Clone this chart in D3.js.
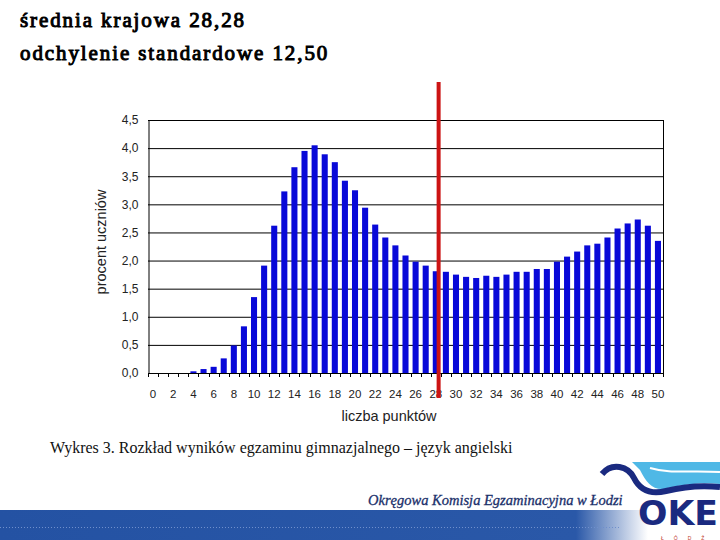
<!DOCTYPE html>
<html>
<head>
<meta charset="utf-8">
<script src="https://cdn.jsdelivr.net/npm/d3@7"></script>
<style>
  body { margin: 0; background: #fff; }
  svg { display: block; }
</style>
</head>
<body>
<div class="canvas"></div>
<script>
'use strict';

// punkty 0..50 i procent uczniów
const points = d3.range(0, 51);
const percents = [
  0, 0, 0, 0, 0.03, 0.07, 0.11, 0.26, 0.49, 0.83,
  1.35, 1.91, 2.62, 3.23, 3.66, 3.95, 4.05, 3.89, 3.75, 3.42,
  3.25, 2.94, 2.64, 2.41, 2.27, 2.09, 1.98, 1.91, 1.81, 1.80,
  1.75, 1.71, 1.69, 1.73, 1.71, 1.75, 1.80, 1.80, 1.85, 1.85,
  1.98, 2.07, 2.16, 2.27, 2.30, 2.41, 2.57, 2.66, 2.73, 2.62,
  2.35
];
const yTicks = [0, 0.5, 1, 1.5, 2, 2.5, 3, 3.5, 4, 4.5];
const mean = 28.28;
const sd = 12.5;

const svg = d3
  .select('.canvas')
  .append('svg')
  .attr('width', 720)
  .attr('height', 540);

const serif = '"Liberation Serif", "Times New Roman", serif';
const sans = 'Arial, "Liberation Sans", sans-serif';

// naglowek (pogrubienie przez obrys)
const header = [
  'średnia krajowa ' + d3.format('.2f')(mean).replace('.', ','),
  'odchylenie standardowe ' + d3.format('.2f')(sd).replace('.', ',')
];
svg.selectAll('text.header')
  .data(header)
  .enter()
  .append('text')
  .attr('class', 'header')
  .attr('x', 20)
  .attr('y', (d, i) => 27 + i * 33)
  .style('font-family', serif)
  .style('font-size', '21px')
  .style('letter-spacing', '1.9px')
  .attr('fill', '#000')
  .attr('stroke', '#000')
  .attr('stroke-width', 1)
  .text(d => d);

const plotLeft = 148, plotRight = 663, plotTop = 120, plotBottom = 373;

const x = d3.scaleBand().domain(points).range([plotLeft, plotRight]).paddingInner(0.4).paddingOuter(0.2);
const y = d3.scaleLinear().domain([0, 4.5]).range([plotBottom, plotTop]);

const graph = svg.append('g');

// siatka
graph.selectAll('line.grid')
  .data(yTicks)
  .enter()
  .append('line')
  .attr('class', 'grid')
  .attr('x1', plotLeft).attr('x2', plotRight)
  .attr('y1', d => y(d) + 0.5).attr('y2', d => y(d) + 0.5)
  .attr('stroke', '#000')
  .attr('stroke-width', 1);

graph.append('line')
  .attr('x1', plotRight + 0.5).attr('x2', plotRight + 0.5)
  .attr('y1', plotTop).attr('y2', plotBottom)
  .attr('stroke', '#000');

// slupki
graph.selectAll('rect')
  .data(percents)
  .enter()
  .append('rect')
  .attr('x', (d, i) => x(points[i]))
  .attr('width', x.bandwidth())
  .attr('y', d => y(d))
  .attr('height', d => plotBottom - y(d))
  .attr('fill', '#0808d8');

// os Y
const yAxis = d3.axisLeft(y)
  .tickValues(yTicks)
  .tickSize(0)
  .tickPadding(10)
  .tickFormat(d => d3.format('.1f')(d).replace('.', ','));
const yAxisGroup = svg.append('g')
  .attr('transform', `translate(${plotLeft + 0.5},0)`)
  .call(yAxis);
yAxisGroup.select('.domain').attr('stroke', '#000');
yAxisGroup.selectAll('text')
  .style('font-family', sans)
  .style('font-size', '12px')
  .attr('fill', '#222');

// os X - kreski miedzy slupkami
const step = x.step();
const xAxisGroup = svg.append('g');
xAxisGroup.append('line')
  .attr('x1', plotLeft).attr('x2', plotRight + 1)
  .attr('y1', plotBottom + 0.5).attr('y2', plotBottom + 0.5)
  .attr('stroke', '#000');
xAxisGroup.selectAll('line.tick')
  .data(points.concat([51]))
  .enter()
  .append('line')
  .attr('class', 'tick')
  .attr('x1', d => Math.round(x(0) - step * x.paddingOuter() + d * step) + 0.5)
  .attr('x2', d => Math.round(x(0) - step * x.paddingOuter() + d * step) + 0.5)
  .attr('y1', plotBottom).attr('y2', plotBottom + 4)
  .attr('stroke', '#000');
xAxisGroup.selectAll('text')
  .data(points.filter(p => p % 2 === 0))
  .enter()
  .append('text')
  .attr('x', d => x(d) + x.bandwidth() / 2)
  .attr('y', plotBottom + 25)
  .attr('text-anchor', 'middle')
  .style('font-family', sans)
  .style('font-size', '11.5px')
  .attr('fill', '#222')
  .text(d => d);

// tytuly osi
svg.append('text')
  .attr('x', 389).attr('y', 421)
  .attr('text-anchor', 'middle')
  .style('font-family', sans)
  .style('font-size', '14.5px')
  .attr('fill', '#222')
  .text('liczba punktów');
svg.append('text')
  .attr('transform', 'translate(106,242) rotate(-90)')
  .attr('text-anchor', 'middle')
  .style('font-family', sans)
  .style('font-size', '14.5px')
  .attr('fill', '#222')
  .text('procent uczniów');

// srednia - czerwona linia
const meanX = x(Math.floor(mean)) + x.bandwidth() / 2 + (mean - Math.floor(mean)) * step;
svg.append('line')
  .attr('x1', meanX).attr('x2', meanX)
  .attr('y1', 82).attr('y2', 398)
  .attr('stroke', '#cc1414')
  .attr('stroke-width', 4);

// podpis
svg.append('text')
  .attr('x', 50).attr('y', 453)
  .style('font-family', serif)
  .style('font-size', '16px')
  .attr('fill', '#111')
  .text('Wykres 3. Rozkład wyników egzaminu gimnazjalnego – język angielski');

// stopka
const defs = svg.append('defs');
const grad = defs.append('linearGradient').attr('id', 'band').attr('x1', 0).attr('x2', 1).attr('y1', 0).attr('y2', 0);
grad.append('stop').attr('offset', '0').attr('stop-color', '#2452a3');
grad.append('stop').attr('offset', '0.8').attr('stop-color', '#2a58a8');
grad.append('stop').attr('offset', '0.9').attr('stop-color', '#ffffff');
grad.append('stop').attr('offset', '1').attr('stop-color', '#ffffff');
svg.append('rect')
  .attr('x', 0).attr('y', 510).attr('width', 720).attr('height', 30)
  .attr('fill', 'url(#band)');
svg.append('line')
  .attr('x1', 0).attr('x2', 620).attr('y1', 527.5).attr('y2', 527.5)
  .attr('stroke', '#6f8fcc').attr('stroke-dasharray', '1,2');

svg.append('text')
  .attr('x', 368).attr('y', 505)
  .style('font-family', serif)
  .style('font-style', 'italic')
  .style('font-size', '14.5px')
  .attr('fill', '#1a2f6a')
  .attr('stroke', '#1a2f6a')
  .attr('stroke-width', 0.3)
  .text('Okręgowa Komisja Egzaminacyjna w Łodzi');

// logo OKE
const logo = svg.append('g');
logo.append('path')
  .attr('d', 'M632,462 L720,462 L720,484 C700,482 680,485 664,489 C652,490 646,482 640,470 Z')
  .attr('fill', '#4fb8e6');
logo.append('path')
  .attr('d', 'M650,468 C670,474 690,470 720,472')
  .attr('fill', 'none')
  .attr('stroke', '#ffffff')
  .attr('stroke-width', 2);
logo.append('path')
  .attr('d', 'M602,474 C612,462 628,466 634,478 C640,490 650,495 666,491 C686,486 702,485 720,487')
  .attr('fill', 'none')
  .attr('stroke', '#1a2a80')
  .attr('stroke-width', 6);
logo.append('text')
  .attr('x', 638).attr('y', 525)
  .style('font-family', '"DejaVu Sans", Arial, sans-serif')
  .style('font-weight', 'bold')
  .style('font-size', '33px')
  .attr('textLength', 80)
  .attr('lengthAdjust', 'spacingAndGlyphs')
  .attr('fill', '#1a2a80')
  .text('OKE');
logo.append('text')
  .attr('x', 661).attr('y', 539.5)
  .style('font-family', sans)
  .style('font-size', '5px')
  .attr('fill', '#c0392b')
  .attr('letter-spacing', '10')
  .text('ŁÓDŹ');
</script>
</body>
</html>
